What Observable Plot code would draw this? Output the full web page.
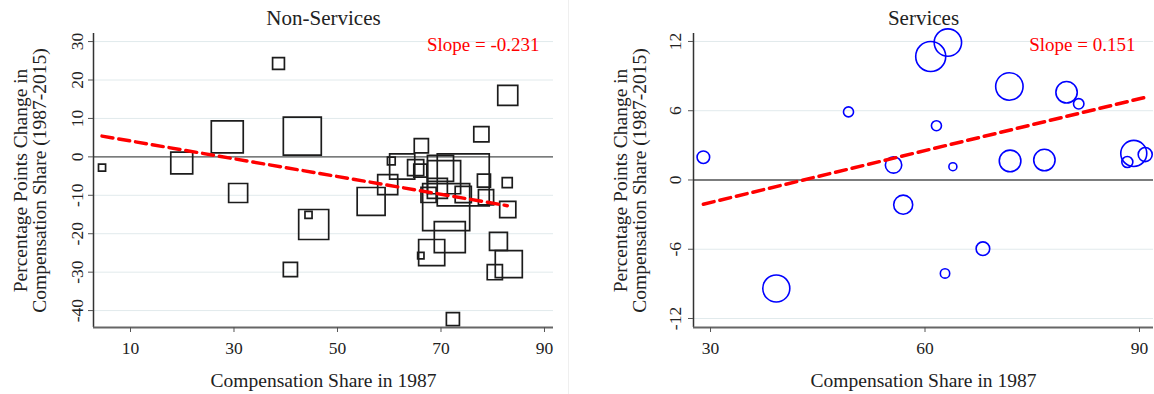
<!DOCTYPE html>
<html><head><meta charset="utf-8">
<script src="https://cdn.jsdelivr.net/npm/d3@7"></script>
<script src="https://cdn.jsdelivr.net/npm/@observablehq/plot@0.6"></script>
<style>
body{margin:0;background:#fff;}
#wrap{position:relative;width:1154px;height:394px;overflow:hidden;background:#fff}
#left{position:absolute;left:0;top:0}
#sep{position:absolute;left:568px;top:0;width:1px;height:394px;background:#efefef}
#right{position:absolute;left:600px;top:0}
</style></head><body>
<div id="wrap"><div id="left"></div><div id="sep"></div><div id="right"></div></div>
<script>
// ---- Non-Services data ----
const nsShare87 = [4.5,19.9,28.7,30.8,38.6,43.2,40.9,45.4,44.4,56.5,59.7,60.4,62.5,66.2,65.1,66.0,69.9,74.3,70.6,67.6,69.3,74.3,78.3,78.7,82.8,82.9,71.0,71.7,68.2,66.1,81.1,83.1,80.4,72.3,82.9,77.8];
const nsChange  = [-2.8,-1.6,5.2,-9.4,24.3,5.4,-29.3,-17.6,-15.1,-11.6,-7.2,-1.1,-2.5,2.9,-2.8,-3.6,-3.0,-6.0,-5.3,-9.9,-8.2,-9.8,-6.2,-10.5,-6.7,-13.7,-13.1,-20.9,-24.9,-25.7,-22.0,-27.9,-30.0,-42.2,16.0,5.9];
const nsWeight  = [0.5,4.8,10.2,3.6,1.4,14.4,2.0,9.0,0.5,7.8,4.0,0.6,6.3,2.0,2.6,1.7,6.8,27.0,10.9,2.3,4.0,2.6,1.7,2.3,1.0,2.6,22.1,9.6,6.8,0.4,3.2,7.3,2.3,1.7,4.0,2.3];
const nsFitX = [4.5, 82.8];
const nsFitY = [5.4, -12.7];
const nsSlope = "Slope = -0.231";
const nsXTicks = [10,30,50,70,90];
const nsYTicks = [-40,-30,-20,-10,0,10,20,30];

// ---- Services data ----
const svShare87 = [29.0,49.3,39.2,60.8,63.2,61.6,71.8,79.8,81.5,55.6,63.9,71.9,76.7,89.2,90.8,88.3,56.95,68.1,62.8];
const svChange  = [1.97,5.9,-9.4,10.7,11.9,4.7,8.1,7.6,6.6,1.3,1.15,1.65,1.73,2.3,2.2,1.56,-2.14,-5.95,-8.1];
const svWeight  = [9.9,6.3,45.6,56.3,46.9,6.3,46.9,28.6,6.8,16.8,4.0,29.2,28.6,42.3,12.3,7.6,22.6,11.6,5.5];
const svFitX = [29.0, 90.8];
const svFitY = [-2.1, 7.16];
const svSlope = "Slope = 0.151";
const svXTicks = [30,60,90];
const svYTicks = [-12,-6,0,6,12];

const FONT = "'Liberation Serif', 'DejaVu Serif', serif";
const xTitle = "Compensation Share in 1987";
const yTitle1 = "Percentage Points Change in";
const yTitle2 = "Compensation Share (1987-2015)";

function rows(xs, ys, ws) { return xs.map((x, i) => ({x, y: ys[i], w: ws ? ws[i] : undefined})); }

function panel(o) {
  return Plot.plot({
    width: o.width, height: 394,
    marginLeft: 93, marginRight: o.marginRight, marginTop: 33, marginBottom: 67,
    x: {domain: o.xDomain},
    y: {domain: o.yDomain},
    r: {type: "sqrt", domain: [0, 100], range: o.rRange},
    style: {fontFamily: FONT, fontSize: "17.5px", color: "#222", background: "#fff", overflow: "visible"},
    marks: [
      Plot.gridY(o.yTicks, {stroke: "#e1eaec", strokeOpacity: 1, strokeWidth: 1}),
      Plot.ruleY([0], {stroke: "#555", strokeWidth: 1.4}),
      Plot.dot(o.data, {x: "x", y: "y", r: "w", symbol: o.symbol, fill: "none", stroke: o.stroke, strokeWidth: o.sw}),
      Plot.line(o.fit, {x: "x", y: "y", stroke: "#ff0000", strokeWidth: 3.5, strokeDasharray: "11,6"}),
      Plot.ruleX([o.xDomain[0]], {stroke: "#333", strokeWidth: 1.5}),
      Plot.ruleY([o.yDomain[0]], {stroke: "#666", strokeWidth: 2}),
      Plot.axisX(o.xTicks, {tickSize: 5, tickPadding: 9.5, label: null, stroke: "#555"}),
      Plot.axisY(o.yTicks, {tickSize: 5, tickFormat: () => "", label: null, stroke: "#555"}),
      Plot.text(o.yTicks, {y: d => d, text: d => String(d), frameAnchor: "left", dx: o.tickDx, rotate: -90, lineAnchor: "bottom", textAnchor: "middle"}),
      Plot.text([o.title], {frameAnchor: "top", dy: -9, lineAnchor: "bottom", fontSize: 21}),
      Plot.text([o.slope], {frameAnchor: "top-right", dx: o.slopeDx, dy: 17, lineAnchor: "bottom", textAnchor: "end", fill: "#ff0000", fontSize: 19}),
      Plot.text([xTitle], {frameAnchor: "bottom", dy: 59, lineAnchor: "bottom", fontSize: 19.5}),
      Plot.text([yTitle1], {frameAnchor: "left", dx: -67, rotate: -90, lineAnchor: "bottom", textAnchor: "middle", fontSize: 19.5}),
      Plot.text([yTitle2], {frameAnchor: "left", dx: -48, rotate: -90, lineAnchor: "bottom", textAnchor: "middle", fontSize: 19.5})
    ]
  });
}

document.getElementById("left").append(panel({
  width: 600, marginRight: 47,
  xDomain: [2.85, 91.74], yDomain: [-44.4, 32.1],
  rRange: [0, 56.43],
  data: rows(nsShare87, nsChange, nsWeight),
  fit: rows(nsFitX, nsFitY),
  symbol: "square", stroke: "#1c1c1c", sw: 1.7,
  xTicks: nsXTicks, yTicks: nsYTicks,
  tickDx: -11, title: "Non-Services", slope: nsSlope, slopeDx: -14
}));

document.getElementById("right").append(panel({
  width: 554, marginRight: 1,
  xDomain: [27.62, 91.96], yDomain: [-12.78, 12.69],
  rRange: [0, 20],
  data: rows(svShare87, svChange, svWeight),
  fit: rows(svFitX, svFitY),
  symbol: "circle", stroke: "#0000ff", sw: 1.6,
  xTicks: svXTicks, yTicks: svYTicks,
  tickDx: -13, title: "Services", slope: svSlope, slopeDx: -18
}));
</script>
</body></html>
